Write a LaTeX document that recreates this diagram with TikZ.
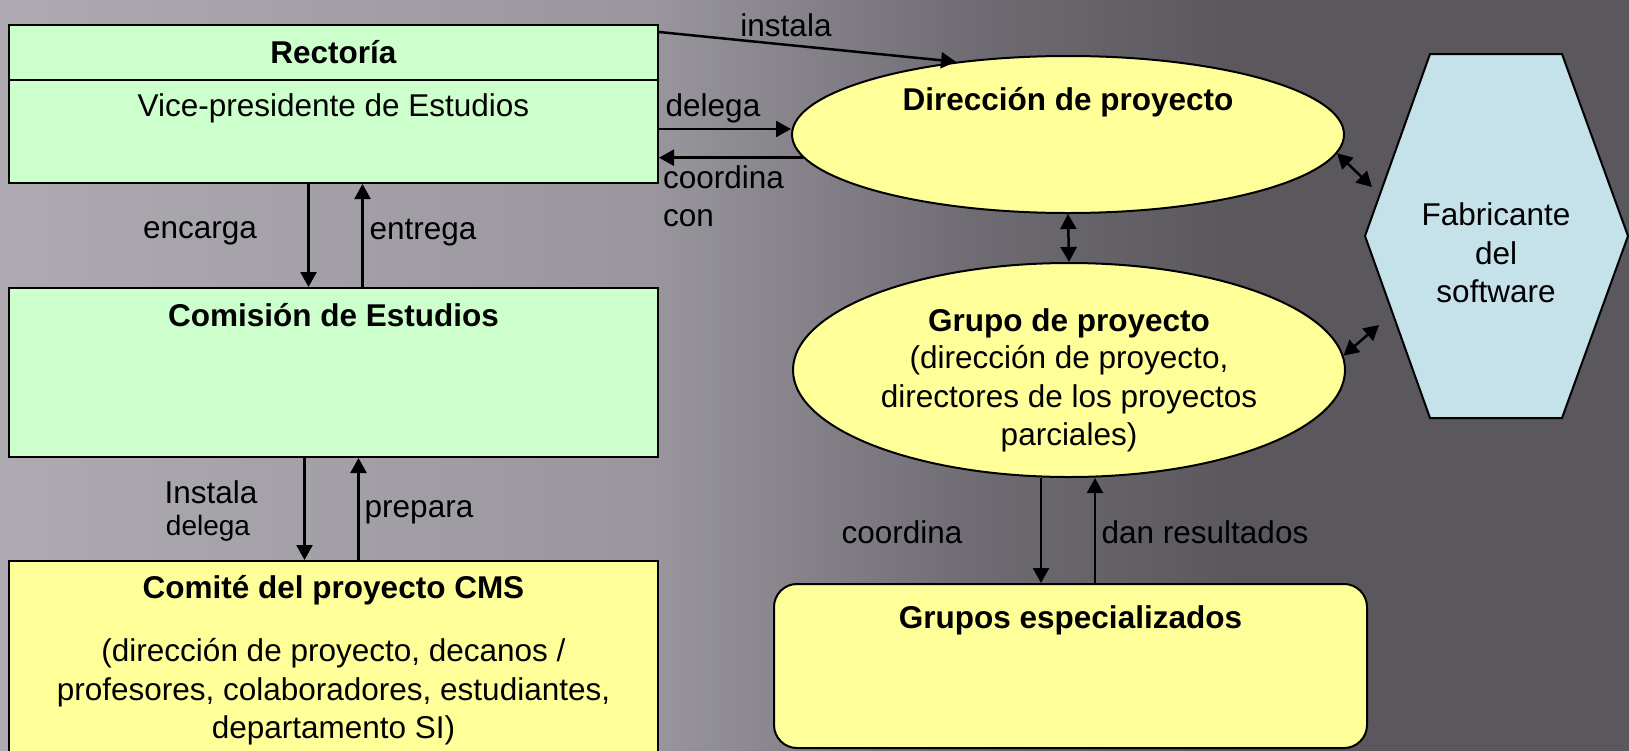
\documentclass[tikz,border=0pt]{standalone}
\usepackage{fontspec}
\setmainfont{Liberation Sans}
\usetikzlibrary{shapes.geometric, positioning, arrows.meta}
\definecolor{boxgreen}{HTML}{CCFFCC}
\definecolor{boxyellow}{HTML}{FFFF99}
\definecolor{boxblue}{HTML}{C5E1E9}
\definecolor{bgA}{HTML}{ADAAB2}
\definecolor{bgB}{HTML}{99969D}
\definecolor{bgC}{HTML}{6E6B72}
\definecolor{bgD}{HTML}{5A575D}
\pgfdeclarehorizontalshading{bgshade}{100bp}{color(0bp)=(bgA); color(25bp)=(bgA); color(45bp)=(bgB); color(55bp)=(bgC); color(63bp)=(bgD); color(100bp)=(bgD)}
\tikzset{
    box/.style = {draw, line width=2pt, inner sep=0pt, font=\fontsize{31.5}{38.5}\selectfont},
    greenbox/.style = {box, fill=boxgreen},
    yellowbox/.style = {box, fill=boxyellow},
    yellowell/.style = {box, ellipse, fill=boxyellow},
    yellowround/.style = {box, rounded corners=23pt, fill=boxyellow},
    hexbox/.style = {draw, line width=2pt, fill=boxblue},
    lbl/.style = {font=\fontsize{31.5}{38.5}\selectfont, inner sep=0pt, align=center},
    arr/.style = {draw, line width=2.5pt, -{Triangle[length=15pt, width=16pt]}},
    darr/.style = {draw, line width=2.5pt, {Triangle[length=15pt, width=16pt]}-{Triangle[length=15pt, width=16pt]}},
}
\begin{document}
\begin{tikzpicture}[x=1pt, y=-1pt]
            \useasboundingbox (0,0) rectangle (1629,750);
            \shade[shading=bgshade] (0,0) rectangle (1629,750);

            \node[greenbox, minimum width=649pt, minimum height=55pt] (rect) at (333.5, 52.5) {\textbf{Rectoría}};
            \node[greenbox, minimum width=649pt, minimum height=103pt] (vice) at (333.5, 131.5) {};
            \node[lbl] (vicet) at (333.5, 108) {Vice-presidente de Estudios};

            \node[greenbox, minimum width=649pt, minimum height=169pt] (com) at (333.5, 372.5) {};
            \node[lbl] (comt) at (333.5, 315) {\textbf{Comisión de Estudios}};

            \node[yellowbox, minimum width=649pt, minimum height=209pt] (cms) at (333.5, 665.5) {};
            \node[lbl] (cmst) at (333.5, 590) {\textbf{Comité del proyecto CMS}};
            \node[lbl] (cmsb) at (333.5, 692) {(dirección de proyecto, decanos /\\profesores, colaboradores, estudiantes,\\departamento SI)};

            \node[yellowell, minimum width=552pt, minimum height=157pt] (dir) at (1068, 134.5) {};
            \node[lbl] (dirt) at (1068, 102) {\textbf{Dirección de proyecto}};

            \node[yellowell, minimum width=552pt, minimum height=214pt] (grp) at (1069, 370) {};
            \node[lbl] (grpt) at (1069, 323) {\textbf{Grupo de proyecto}};
            \node[lbl] (grpb) at (1069, 399) {(dirección de proyecto,\\directores de los proyectos\\parciales)};

            \node[yellowround, minimum width=593pt, minimum height=164pt] (esp) at (1070.5, 666) {};
            \node[lbl] (espt) at (1070.5, 620) {\textbf{Grupos especializados}};

            \draw[hexbox] (1430,54) -- (1562,54) -- (1628,236) -- (1562,418) -- (1430,418) -- (1365,236) -- cycle;
            \node[lbl] (fab) at (1496, 253) {Fabricante\\del\\software};
            \coordinate (hexl1) at (1372, 187);
            \coordinate (hexl2) at (1379, 325);

            \node[lbl] (inst) at (786, 25) {instala};
            \node[lbl] (deleg) at (713, 108) {delega};
            \node[lbl, align=left, anchor=west] (coordcon) at (663, 196) {coordina\\con};
            \node[lbl] (enc) at (200, 233) {encarga};
            \node[lbl] (ent) at (423, 233) {entrega};
            \node[lbl] (insta) at (211, 492) {Instala};
            \node[lbl, font=\fontsize{28}{34}\selectfont] (delegb) at (208, 528) {delega};
            \node[lbl] (prep) at (419, 512) {prepara};
            \node[lbl] (coord) at (902, 532) {coordina};
            \node[lbl] (dan) at (1205, 532) {dan resultados};

            \draw[arr] ([yshift=-8pt]rect.north east) -- (dir.147);
            \draw[arr] ([yshift=2.5pt]vice.east) -- ([yshift=2.5pt]vice.east -| dir.west);
            \draw[arr] (dir.185) -- (dir.185 -| vice.east);
            \draw[arr] ([xshift=-25pt]vice.south) -- ([xshift=-25pt]com.north);
            \draw[arr] ([xshift=29pt]com.north) -- ([xshift=29pt]vice.south);
            \draw[arr] ([xshift=-29pt]com.south) -- ([xshift=-29pt]cms.north);
            \draw[arr] ([xshift=25pt]cms.north) -- ([xshift=25pt]com.south);
            \draw[darr] (dir.south) -- (grp.north);
            \draw[darr] (dir.-4) -- (hexl1);
            \draw[darr] (grp.3) -- (hexl2);
            \draw[arr] ([xshift=-28pt]grp.south) -- ([xshift=-28pt]grp.south |- esp.north);
            \draw[arr] ([xshift=26pt]grp.south |- esp.north) -- ([xshift=26pt]grp.south);
        \end{tikzpicture}
\end{document}
